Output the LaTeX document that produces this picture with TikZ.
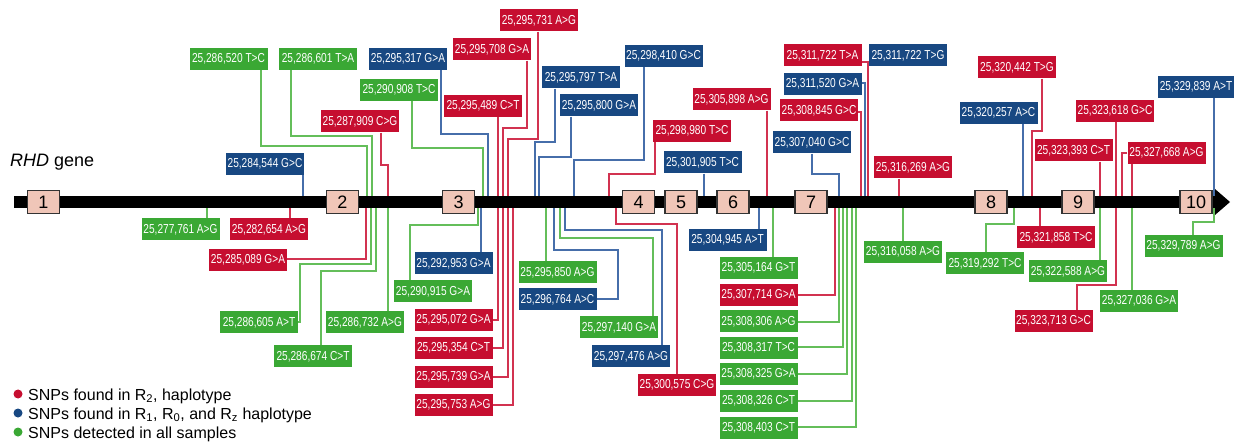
\documentclass[tikz,border=0pt]{standalone}
\usepackage{fontspec}
\setmainfont{Liberation Sans}
\newfontfamily\labfont[FakeStretch=0.78]{Liberation Sans}
\definecolor{gfill}{RGB}{58,168,52}
\definecolor{rfill}{RGB}{198,14,48}
\definecolor{bfill}{RGB}{24,72,130}
\definecolor{gcol}{RGB}{100,190,90}
\definecolor{rcol}{RGB}{210,50,80}
\definecolor{bcol}{RGB}{70,110,170}
\definecolor{exonfill}{RGB}{240,198,184}
\tikzset{
  snp/.style={minimum width=78pt, minimum height=22pt, inner sep=0pt, text=white,
    font=\labfont\fontsize{13}{13}\selectfont},
  gsnp/.style={snp, fill=gfill},
  rsnp/.style={snp, fill=rfill},
  bsnp/.style={snp, fill=bfill},
  gcon/.style={draw=gcol, line width=1.3pt},
  rcon/.style={draw=rcol, line width=1.3pt},
  bcon/.style={draw=bcol, line width=1.3pt},
  exonbox/.style={draw=black!80, line width=1.3pt, fill=exonfill, minimum width=32pt,
    minimum height=23pt, inner sep=0pt, font=\fontsize{18}{18}\selectfont},
  legtext/.style={anchor=base west, inner sep=0pt, font=\fontsize{16}{16}\selectfont}
}
\begin{document}
\begin{tikzpicture}[x=1pt,y=-1pt]
\useasboundingbox (0,0) rectangle (1234,443);
% ---------- label nodes (top) ----------
\node[gsnp] (T1) at (228.5,59) {25,286,520 T>C};
\node[gsnp] (T2) at (318,59) {25,286,601 T>A};
\node[bsnp] (T3) at (265,164) {25,284,544 G>C};
\node[rsnp] (T4) at (360,121.5) {25,287,909 C>G};
\node[gsnp] (T5) at (399,90) {25,290,908 T>C};
\node[bsnp] (T6) at (408,59) {25,295,317 G>A};
\node[rsnp] (T7) at (539,20.5) {25,295,731 A>G};
\node[rsnp] (T8) at (492,49.5) {25,295,708 G>A};
\node[rsnp] (T9) at (483,106) {25,295,489 C>T};
\node[bsnp] (T10) at (581,77.5) {25,295,797 T>A};
\node[bsnp] (T11) at (599,105.5) {25,295,800 G>A};
\node[bsnp] (T12) at (663.5,56) {25,298,410 G>C};
\node[rsnp] (T13) at (692,131) {25,298,980 T>C};
\node[bsnp] (T14) at (702.5,162.5) {25,301,905 T>C};
\node[rsnp] (T15) at (731.5,99.5) {25,305,898 A>G};
\node[bsnp] (T16) at (812,142.5) {25,307,040 G>C};
\node[rsnp] (T17) at (819,110.5) {25,308,845 G>C};
\node[bsnp] (T18) at (822.5,84) {25,311,520 G>A};
\node[rsnp] (T19) at (822.5,55.5) {25,311,722 T>A};
\node[bsnp] (T20) at (908,55.5) {25,311,722 T>G};
\node[rsnp] (T21) at (913,167.5) {25,316,269 A>G};
\node[rsnp] (T22) at (1017,67.5) {25,320,442 T>G};
\node[bsnp] (T23) at (998.5,113) {25,320,257 A>C};
\node[rsnp] (T24) at (1115,111) {25,323,618 G>C};
\node[rsnp] (T25) at (1073.5,150.5) {25,323,393 C>T};
\node[rsnp] (T26) at (1166.5,153) {25,327,668 A>G};
\node[bsnp, minimum width=76pt] (T27) at (1196,87) {25,329,839 A>T};
% ---------- label nodes (bottom) ----------
\node[gsnp] (B1) at (180.5,229.5) {25,277,761 A>G};
\node[rsnp] (B2) at (269,229.5) {25,282,654 A>G};
\node[rsnp] (B3) at (248,260) {25,285,089 G>A};
\node[gsnp] (B4) at (259,322.5) {25,286,605 A>T};
\node[gsnp] (B5) at (313,356.5) {25,286,674 C>T};
\node[gsnp] (B6) at (365,322.5) {25,286,732 A>G};
\node[bsnp] (B7) at (453.5,263.5) {25,292,953 G>A};
\node[gsnp] (B8) at (433,291.5) {25,290,915 G>A};
\node[rsnp] (B9) at (453.5,320) {25,295,072 G>A};
\node[rsnp] (B10) at (453.5,348) {25,295,354 C>T};
\node[rsnp] (B11) at (453.5,377) {25,295,739 G>A};
\node[rsnp] (B12) at (453.5,405) {25,295,753 A>G};
\node[gsnp] (B13) at (557.5,272.5) {25,295,850 A>G};
\node[bsnp] (B14) at (557.5,299.5) {25,296,764 A>C};
\node[gsnp] (B15) at (619,327.5) {25,297,140 G>A};
\node[bsnp] (B16) at (631,356.5) {25,297,476 A>G};
\node[rsnp] (B17) at (677,385) {25,300,575 C>G};
\node[bsnp] (B18) at (727.5,240) {25,304,945 A>T};
\node[gsnp] (B19) at (758.5,268) {25,305,164 G>T};
\node[rsnp] (B20) at (758.5,295) {25,307,714 G>A};
\node[gsnp] (B21) at (758.5,321.5) {25,308,306 A>G};
\node[gsnp] (B22) at (758.5,348) {25,308,317 T>C};
\node[gsnp] (B23) at (758.5,374) {25,308,325 G>A};
\node[gsnp] (B24) at (758.5,401) {25,308,326 C>T};
\node[gsnp] (B25) at (758.5,427.5) {25,308,403 C>T};
\node[gsnp] (B26) at (903,252) {25,316,058 A>G};
\node[gsnp] (B27) at (985,263.5) {25,319,292 T>C};
\node[rsnp] (B28) at (1056,237.5) {25,321,858 T>C};
\node[gsnp] (B29) at (1068,271.5) {25,322,588 A>G};
\node[rsnp] (B30) at (1053.5,321) {25,323,713 G>C};
\node[gsnp] (B31) at (1139,301) {25,327,036 G>A};
\node[gsnp] (B32) at (1183.5,246) {25,329,789 A>G};
% ---------- connectors (top) ----------
\path[gcon] (T1.south -| 261,0) |- (367,146) -- (367,202);
\path[gcon] (T2.south -| 291,0) |- (372,136) -- (372,202);
\path[bcon] (T3.south -| 303,0) -- (303,202);
\path[rcon] (T4.south -| 381,0) |- (388,165) -- (388,202);
\path[gcon] (T5.south -| 412,0) |- (483,148) -- (483,202);
\path[bcon] (T6.south -| 441,0) |- (488,134) -- (488,202);
\path[rcon] (T7.south -| 538,0) |- (508,139) -- (508,202);
\path[rcon] (T8.south -| 527,0) |- (503,128) -- (503,202);
\path[rcon] (T9.south -| 498,0) -- (498,202);
\path[bcon] (T10.south -| 555,0) |- (535,142) -- (535,202);
\path[bcon] (T11.south -| 571,0) |- (539,157) -- (539,202);
\path[bcon] (T12.south -| 644,0) |- (574,160) -- (574,202);
\path[rcon] (T13.south -| 655,0) |- (609,174) -- (609,202);
\path[bcon] (T14.south -| 704,0) -- (704,202);
\path[rcon] (T15.south -| 767,0) -- (767,202);
\path[bcon] (T16.south -| 812,0) |- (839,174) -- (839,202);
\path[rcon] (T17.east |- 0,112) -- (861,112) -- (861,202);
\path[bcon] (T18.east |- 0,83) -- (865,83) -- (865,202);
\path[bcon] (T20.west |- 0,62) -- (868,62) -- (868,202);
\path[rcon] (T19.east |- 0,62) -- (868,62) -- (868,202);
\path[rcon] (T21.south -| 899,0) -- (899,202);
\path[rcon] (T22.south -| 1042,0) |- (1032,131) -- (1032,202);
\path[bcon] (T23.south -| 1023,0) -- (1023,202);
\path[rcon] (T24.south -| 1116,0) -- (1116,202);
\path[rcon] (T25.south -| 1100,0) -- (1100,202);
\path[rcon] (T26.west |- 0,153) -- (1122,153) -- (1122,202);
\path[rcon] (T26.south -| 1132,0) -- (1132,202);
\path[bcon] (T27.south -| 1214,0) -- (1214,202);
% ---------- connectors (bottom) ----------
\path[gcon] (B1.north -| 207,0) -- (207,202);
\path[rcon] (B2.north -| 290,0) -- (290,202);
\path[rcon] (B3.east |- 0,259) -- (366,259) -- (366,202);
\path[gcon] (B4.east |- 0,322) -- (300,322) |- (371,264) -- (371,202);
\path[gcon] (B5.north -| 321,0) |- (376,271) -- (376,202);
\path[gcon] (B6.north -| 388,0) -- (388,202);
\path[bcon] (B7.north -| 481,0) -- (481,202);
\path[gcon] (B8.north -| 410,0) |- (478,225) -- (478,202);
\path[rcon] (B9.east |- 0,320) -- (498,320) -- (498,202);
\path[rcon] (B10.east |- 0,348) -- (503,348) -- (503,202);
\path[rcon] (B11.east |- 0,377) -- (508,377) -- (508,202);
\path[rcon] (B12.east |- 0,405) -- (513,405) -- (513,202);
\path[gcon] (B13.north -| 546,0) -- (546,202);
\path[bcon] (B14.east |- 0,299) -- (618,299) |- (554,250) -- (554,202);
\path[gcon] (B15.north -| 653,0) |- (560,238) -- (560,202);
\path[bcon] (B16.north -| 662,0) |- (565,230) -- (565,202);
\path[rcon] (B17.north -| 677,0) |- (616,224) -- (616,202);
\path[bcon] (B18.north -| 759,0) -- (759,202);
\path[gcon] (B19.north -| 773,0) -- (773,202);
\path[rcon] (B20.east |- 0,295) -- (835,295) -- (835,202);
\path[gcon] (B21.east |- 0,322) -- (839,322) -- (839,202);
\path[gcon] (B22.east |- 0,347) -- (843,347) -- (843,202);
\path[gcon] (B23.east |- 0,374) -- (847,374) -- (847,202);
\path[gcon] (B24.east |- 0,401) -- (852,401) -- (852,202);
\path[gcon] (B25.east |- 0,427) -- (856,427) -- (856,202);
\path[gcon] (B26.north -| 903,0) -- (903,202);
\path[gcon] (B27.north -| 986,0) |- (1014,224) -- (1014,202);
\path[rcon] (B28.north -| 1040,0) -- (1040,202);
\path[gcon] (B29.north -| 1100,0) -- (1100,202);
\path[rcon] (B30.north -| 1077,0) |- (1116,285) -- (1116,202);
\path[gcon] (B31.north -| 1132,0) -- (1132,202);
\path[gcon] (B32.north -| 1193,0) |- (1214,222) -- (1214,202);
% ---------- gene bar ----------
\fill[black] (14,196) rectangle (1215,208);
\fill[black] (1215,189) -- (1230,202) -- (1215,215) -- cycle;
\node[exonbox] (E1) at (43.5,202) {1};
\node[exonbox] (E2) at (342.5,202) {2};
\node[exonbox] (E3) at (458.5,202) {3};
\node[exonbox] (E4) at (638.5,202) {4};
\node[exonbox] (E5) at (681,202) {5};
\node[exonbox] (E6) at (733,202) {6};
\node[exonbox] (E7) at (811,202) {7};
\node[exonbox] (E8) at (991,202) {8};
\node[exonbox] (E9) at (1078,202) {9};
\node[exonbox] (E10) at (1196,202) {10};
\node[anchor=base west, inner sep=0pt, font=\fontsize{18}{18}\selectfont] (title) at (10,167) {\textit{RHD} gene};
% ---------- legend ----------
\fill[rfill] (18,394) circle (4.5);
\fill[bfill] (18,413) circle (4.5);
\fill[gfill] (18,432) circle (4.5);
\node[legtext] (L1) at (28,400) {SNPs found in R\textsubscript{2}, haplotype};
\node[legtext] (L2) at (28,419) {SNPs found in R\textsubscript{1}, R\textsubscript{0}, and R\textsubscript{z} haplotype};
\node[legtext] (L3) at (28,438) {SNPs detected in all samples};
\end{tikzpicture}
\end{document}
